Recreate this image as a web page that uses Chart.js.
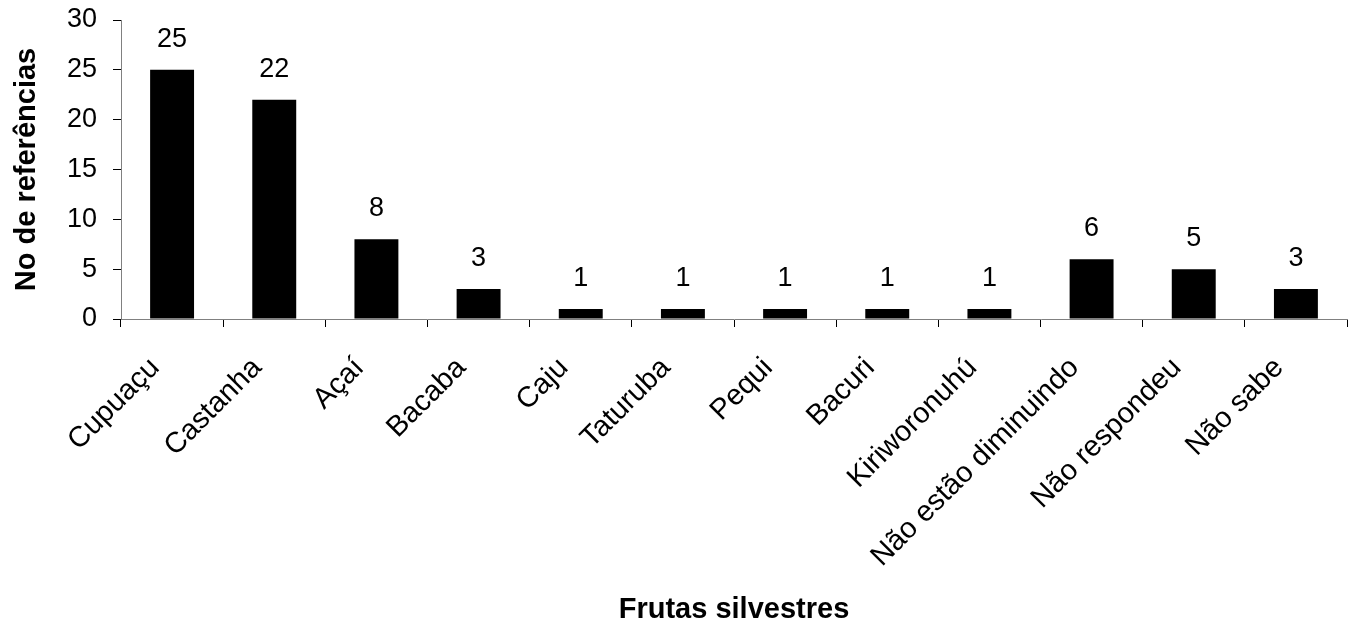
<!DOCTYPE html>
<html>
<head>
<meta charset="utf-8">
<style>
  html, body { margin: 0; padding: 0; background: #fff; }
  #wrap { width: 1355px; height: 624px; }
</style>
<script src="https://cdn.jsdelivr.net/npm/chart.js@4/dist/chart.umd.min.js"></script>
</head>
<body>
<div id="wrap"><canvas id="c" width="1355" height="624"></canvas></div>
<script>
const categories = ['Cupuaçu', 'Castanha', 'Açaí', 'Bacaba', 'Caju', 'Taturuba', 'Pequi', 'Bacuri',
  'Kiriworonuhú', 'Não estão diminuindo', 'Não respondeu', 'Não sabe'];
const referencias = [25, 22, 8, 3, 1, 1, 1, 1, 1, 6, 5, 3];
const yTicks = [0, 5, 10, 15, 20, 25, 30];

const FONT = 'Liberation Sans, Arial, Helvetica, sans-serif';

// Writes each bar's value just above it
const valueLabels = {
  id: 'valueLabels',
  afterDatasetsDraw(chart) {
    const ctx = chart.ctx;
    const meta = chart.getDatasetMeta(0);
    ctx.save();
    ctx.font = '27px ' + FONT;
    ctx.fillStyle = '#000';
    ctx.textAlign = 'center';
    ctx.textBaseline = 'alphabetic';
    meta.data.forEach((bar, i) => {
      ctx.fillText(String(referencias[i]), bar.x, bar.y - 23);
    });
    ctx.restore();
  }
};

new Chart(document.getElementById('c'), {
  type: 'bar',
  data: {
    labels: categories,
    datasets: [{
      data: referencias,
      backgroundColor: '#000',
      borderWidth: 0,
      barPercentage: 0.43,
      categoryPercentage: 1
    }]
  },
  options: {
    responsive: false,
    animation: false,
    layout: { padding: { top: 20, right: 8, left: 0, bottom: 0 } },
    plugins: { legend: { display: false }, tooltip: { enabled: false } },
    scales: {
      x: {
        offset: true,
        grid: { offset: true, drawOnChartArea: false, drawTicks: true, tickLength: 8, color: '#000' },
        border: { color: '#808080', width: 1 },
        ticks: {
          color: '#000',
          font: { family: FONT, size: 29 },
          maxRotation: 45, minRotation: 45,
          autoSkip: false,
          padding: 24,
          labelOffset: -17
        },
        title: {
          display: true,
          text: 'Frutas silvestres',
          color: '#000',
          font: { family: FONT, size: 29, weight: 'bold' },
          padding: { top: 0, bottom: -3 }
        },
        afterFit(scale) {
          scale.height = 305;
          scale.paddingLeft = 0;
          scale.paddingRight = 0;
        }
      },
      y: {
        min: 0, max: 30,
        afterBuildTicks(scale) { scale.ticks = yTicks.map(v => ({ value: v })); },
        grid: { drawOnChartArea: false, drawTicks: true, tickLength: 8, color: '#000' },
        border: { color: '#808080', width: 1 },
        ticks: {
          color: '#000',
          font: { family: FONT, size: 27 },
          padding: 16
        },
        title: {
          display: true,
          text: 'No de referências',
          color: '#000',
          font: { family: FONT, size: 29, weight: 'bold' },
          padding: { top: 10, bottom: 0 }
        },
        afterFit(scale) {
          scale.width = 121;
          scale.paddingTop = 0;
          scale.paddingBottom = 0;
        }
      }
    }
  },
  plugins: [valueLabels]
});
</script>
</body>
</html>
